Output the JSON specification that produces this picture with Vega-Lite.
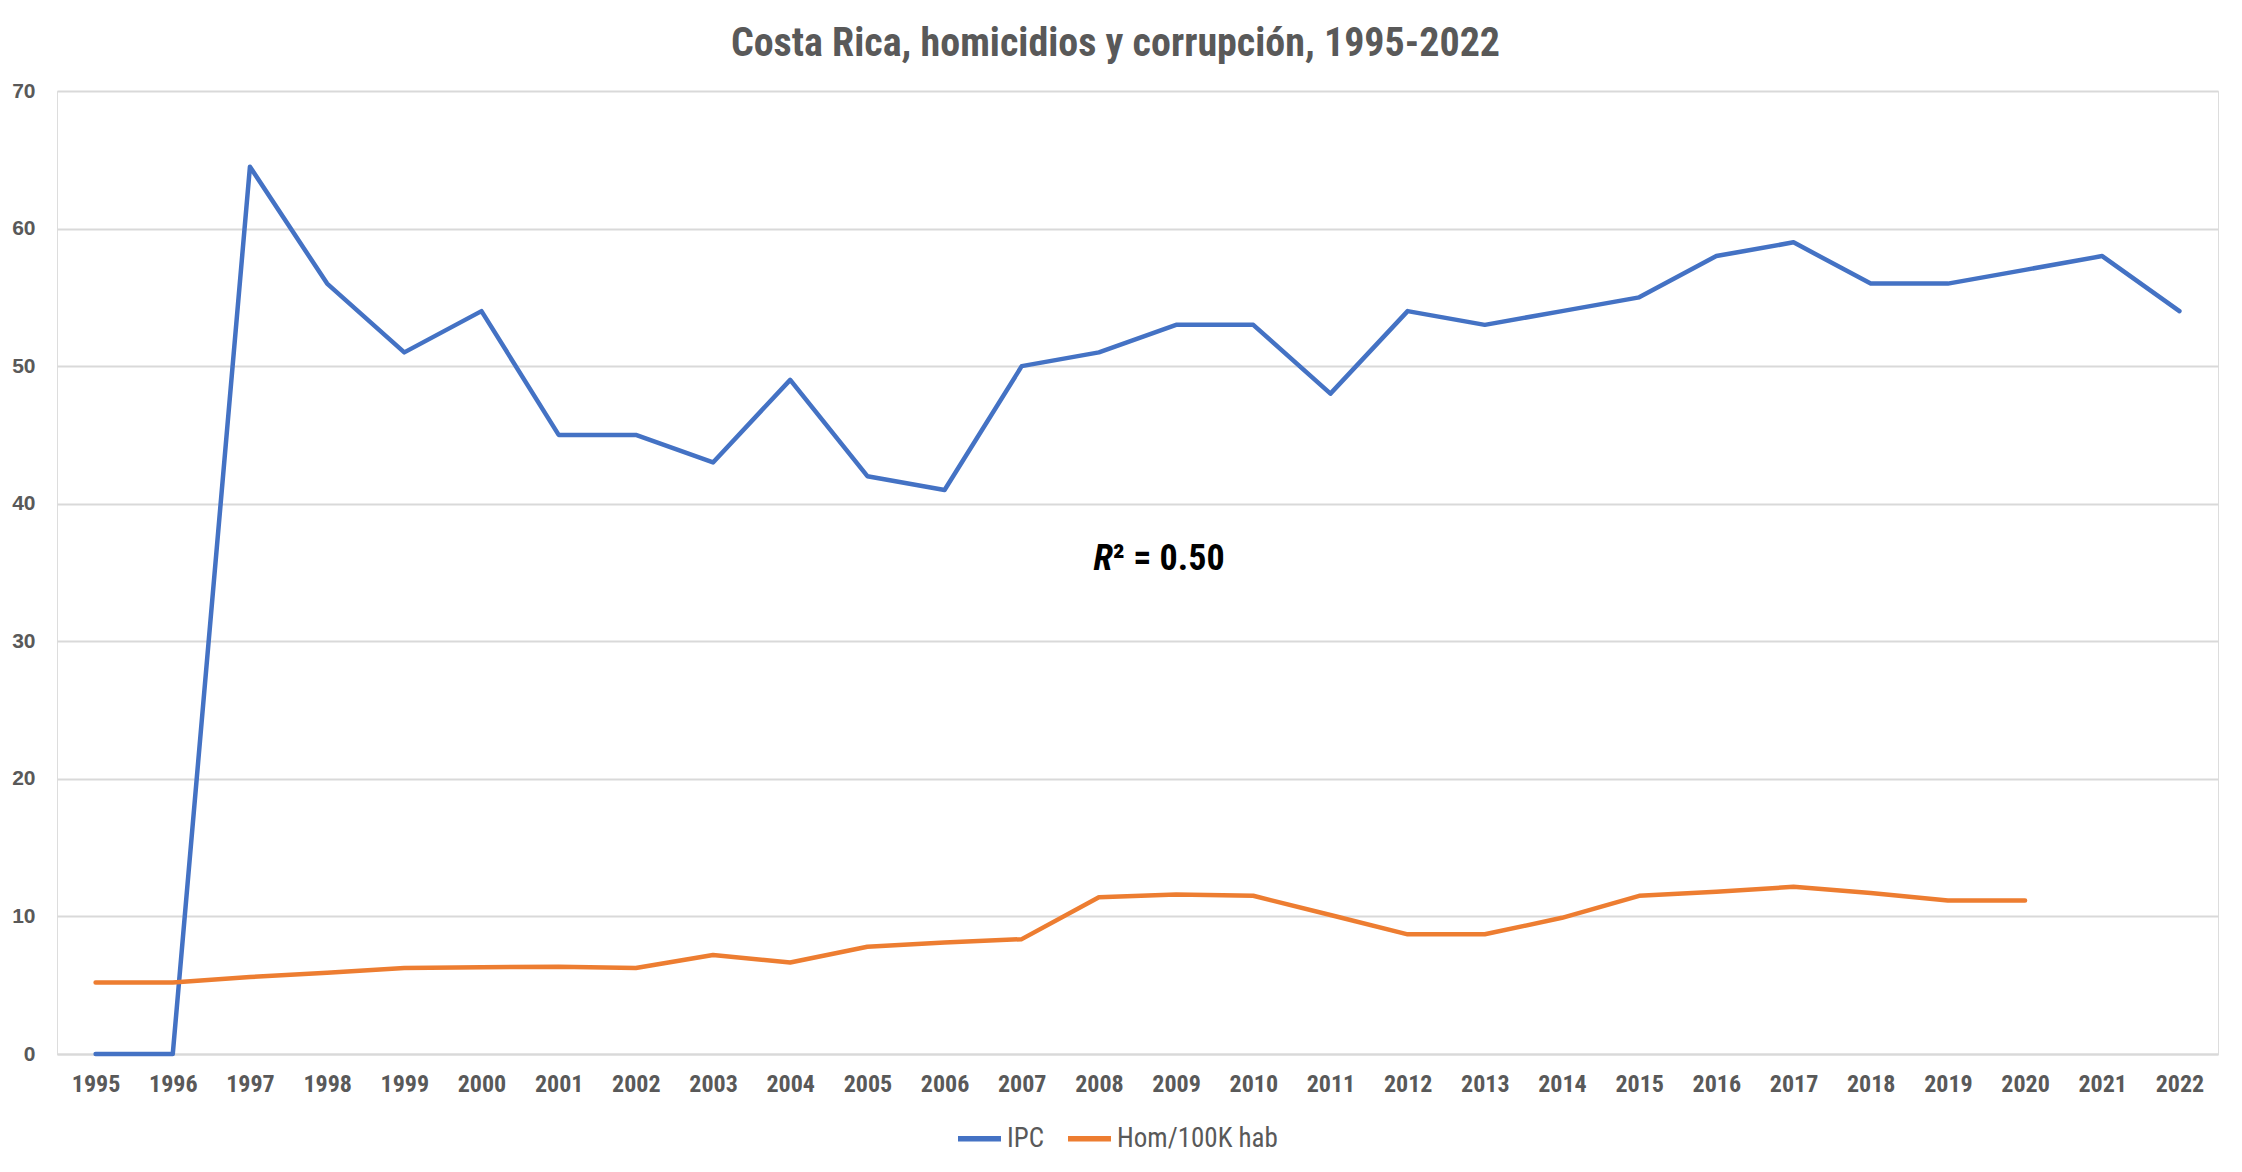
{
  "$schema": "https://vega.github.io/schema/vega-lite/v6.json",
  "autosize": "none",
  "width": 2161,
  "height": 963,
  "padding": {"left": 57, "top": 91, "right": 24, "bottom": 118},
  "background": "white",
  "title": {
    "text": "Costa Rica, homicidios y corrupción, 1995-2022",
    "font": "Roboto Condensed, DejaVu Sans Condensed, Liberation Sans Narrow, Roboto",
    "fontSize": 40,
    "fontWeight": "bold",
    "color": "#595959",
    "anchor": "middle",
    "frame": "group",
    "baseline": "alphabetic",
    "offset": -16,
    "dx": -22
  },
  "datasets": {
    "series": [
      {"year": 1995, "serie": "IPC", "value": 0},
      {"year": 1996, "serie": "IPC", "value": 0},
      {"year": 1997, "serie": "IPC", "value": 64.5},
      {"year": 1998, "serie": "IPC", "value": 56},
      {"year": 1999, "serie": "IPC", "value": 51},
      {"year": 2000, "serie": "IPC", "value": 54},
      {"year": 2001, "serie": "IPC", "value": 45},
      {"year": 2002, "serie": "IPC", "value": 45},
      {"year": 2003, "serie": "IPC", "value": 43},
      {"year": 2004, "serie": "IPC", "value": 49},
      {"year": 2005, "serie": "IPC", "value": 42},
      {"year": 2006, "serie": "IPC", "value": 41},
      {"year": 2007, "serie": "IPC", "value": 50},
      {"year": 2008, "serie": "IPC", "value": 51},
      {"year": 2009, "serie": "IPC", "value": 53},
      {"year": 2010, "serie": "IPC", "value": 53},
      {"year": 2011, "serie": "IPC", "value": 48},
      {"year": 2012, "serie": "IPC", "value": 54},
      {"year": 2013, "serie": "IPC", "value": 53},
      {"year": 2014, "serie": "IPC", "value": 54},
      {"year": 2015, "serie": "IPC", "value": 55},
      {"year": 2016, "serie": "IPC", "value": 58},
      {"year": 2017, "serie": "IPC", "value": 59},
      {"year": 2018, "serie": "IPC", "value": 56},
      {"year": 2019, "serie": "IPC", "value": 56},
      {"year": 2020, "serie": "IPC", "value": 57},
      {"year": 2021, "serie": "IPC", "value": 58},
      {"year": 2022, "serie": "IPC", "value": 54},
      {"year": 1995, "serie": "Hom/100K hab", "value": 5.2},
      {"year": 1996, "serie": "Hom/100K hab", "value": 5.2},
      {"year": 1997, "serie": "Hom/100K hab", "value": 5.6},
      {"year": 1998, "serie": "Hom/100K hab", "value": 5.9},
      {"year": 1999, "serie": "Hom/100K hab", "value": 6.25},
      {"year": 2000, "serie": "Hom/100K hab", "value": 6.3},
      {"year": 2001, "serie": "Hom/100K hab", "value": 6.35},
      {"year": 2002, "serie": "Hom/100K hab", "value": 6.25},
      {"year": 2003, "serie": "Hom/100K hab", "value": 7.2},
      {"year": 2004, "serie": "Hom/100K hab", "value": 6.65},
      {"year": 2005, "serie": "Hom/100K hab", "value": 7.8},
      {"year": 2006, "serie": "Hom/100K hab", "value": 8.1},
      {"year": 2007, "serie": "Hom/100K hab", "value": 8.35},
      {"year": 2008, "serie": "Hom/100K hab", "value": 11.4},
      {"year": 2009, "serie": "Hom/100K hab", "value": 11.6},
      {"year": 2010, "serie": "Hom/100K hab", "value": 11.5},
      {"year": 2011, "serie": "Hom/100K hab", "value": 10.1},
      {"year": 2012, "serie": "Hom/100K hab", "value": 8.7},
      {"year": 2013, "serie": "Hom/100K hab", "value": 8.7},
      {"year": 2014, "serie": "Hom/100K hab", "value": 9.9},
      {"year": 2015, "serie": "Hom/100K hab", "value": 11.5},
      {"year": 2016, "serie": "Hom/100K hab", "value": 11.8},
      {"year": 2017, "serie": "Hom/100K hab", "value": 12.15},
      {"year": 2018, "serie": "Hom/100K hab", "value": 11.7},
      {"year": 2019, "serie": "Hom/100K hab", "value": 11.15},
      {"year": 2020, "serie": "Hom/100K hab", "value": 11.15}
    ],
    "note": [
      {"year": 2008.18, "value": 36, "lead": "R", "rest": "² = 0.50"}
    ]
  },
  "layer": [
    {
      "data": {"name": "series"},
      "mark": {"type": "line", "strokeWidth": 4.5, "strokeCap": "round", "strokeJoin": "round"},
      "encoding": {
        "x": {
          "field": "year",
          "type": "quantitative",
          "scale": {"domain": [1994.5, 2022.5], "nice": false, "zero": false},
          "axis": {
            "title": null,
            "values": [1995, 1996, 1997, 1998, 1999, 2000, 2001, 2002, 2003, 2004, 2005, 2006, 2007, 2008, 2009, 2010, 2011, 2012, 2013, 2014, 2015, 2016, 2017, 2018, 2019, 2020, 2021, 2022],
            "format": "d",
            "grid": false,
            "ticks": false,
            "domainColor": "#D9D9D9",
            "domainWidth": 2,
            "labelFont": "Roboto Condensed, DejaVu Sans Condensed, Liberation Sans Narrow, Roboto",
            "labelFontSize": 24,
            "labelFontWeight": "bold",
            "labelColor": "#595959",
            "labelPadding": 18,
            "labelFlush": false,
            "labelOverlap": false
          }
        },
        "y": {
          "field": "value",
          "type": "quantitative",
          "scale": {"domain": [0, 70], "nice": false},
          "axis": {
            "title": null,
            "values": [0, 10, 20, 30, 40, 50, 60, 70],
            "grid": true,
            "gridColor": "#D9D9D9",
            "gridWidth": 2,
            "ticks": false,
            "domain": false,
            "labelFont": "Liberation Sans",
            "labelFontSize": 21,
            "labelFontWeight": "bold",
            "labelColor": "#595959",
            "labelPadding": 22
          }
        },
        "color": {
          "field": "serie",
          "type": "nominal",
          "scale": {"domain": ["IPC", "Hom/100K hab"], "range": ["#4472C4", "#ED7D31"]},
          "legend": {
            "title": null,
            "orient": "none",
            "legendX": 898,
            "legendY": 1023,
            "direction": "horizontal",
            "symbolType": "stroke",
            "symbolSize": 1849,
            "symbolStrokeWidth": 5.5,
            "labelFont": "Roboto Condensed, DejaVu Sans Condensed, Liberation Sans Narrow, Roboto",
            "labelFontSize": 27,
            "labelColor": "#595959",
            "labelOffset": 3,
            "labelLimit": 0,
            "columnPadding": 12
          }
        }
      }
    },
    {
      "data": {"name": "note"},
      "mark": {"type": "text", "align": "right", "baseline": "middle", "font": "Roboto Condensed, DejaVu Sans Condensed, Liberation Sans Narrow, Roboto", "fontSize": 36, "fontWeight": "bold", "fontStyle": "italic", "color": "#000000"},
      "encoding": {
        "x": {"field": "year", "type": "quantitative"},
        "y": {"field": "value", "type": "quantitative"},
        "text": {"field": "lead"}
      }
    },
    {
      "data": {"name": "note"},
      "mark": {"type": "text", "align": "left", "baseline": "middle", "font": "Roboto Condensed, DejaVu Sans Condensed, Liberation Sans Narrow, Roboto", "fontSize": 36, "fontWeight": "bold", "color": "#000000"},
      "encoding": {
        "x": {"field": "year", "type": "quantitative"},
        "y": {"field": "value", "type": "quantitative"},
        "text": {"field": "rest"}
      }
    }
  ]
}
